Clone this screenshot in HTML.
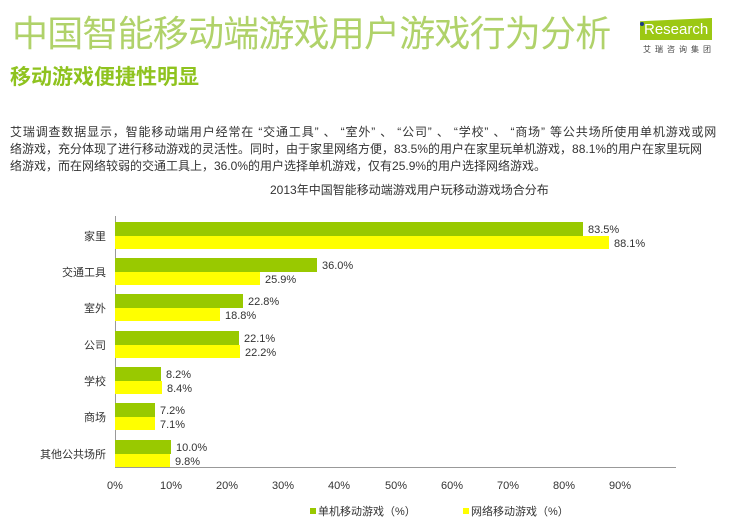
<!DOCTYPE html>
<html><head><meta charset="utf-8"><style>
body{margin:0;width:746px;height:528px;background:#fff;overflow:hidden;position:relative;font-family:"Liberation Sans","Noto Sans CJK SC",sans-serif}
.a{position:absolute;white-space:nowrap}
</style></head><body>
<div class="a" style="left:12px;top:12px;font-size:36px;color:#b0d26a;letter-spacing:-0.8px;line-height:44px">中国智能移动端游戏用户游戏行为分析</div>
<div class="a" style="left:10px;top:64px;font-size:21px;font-weight:bold;color:#8fc31f;line-height:28px">移动游戏便捷性明显</div>
<div class="a" style="left:640px;top:18px;width:72px;height:22px;background:#9cc813;clip-path:polygon(0 15%,100% 0,100% 100%,0 100%)"></div>
<div class="a" style="left:644px;top:20px;font-size:15px;color:#fff;line-height:20px">Research</div>
<div class="a" style="left:640px;top:22px;width:4px;height:4px;border-radius:2px;background:#1a3a8a"></div>
<div class="a" style="left:643px;top:44px;font-size:8px;color:#444;letter-spacing:4px">艾瑞咨询集团</div>
<div class="a" style="left:10px;top:124px;font-size:12px;color:#333;line-height:17px;letter-spacing:0.85px">艾瑞调查数据显示，智能移动端用户经常在 “交通工具” 、 “室外” 、 “公司” 、 “学校” 、 “商场” 等公共场所使用单机游戏或网</div>
<div class="a" style="left:10px;top:141px;font-size:12px;color:#333;line-height:17px">络游戏，充分体现了进行移动游戏的灵活性。同时，由于家里网络方便，83.5%的用户在家里玩单机游戏，88.1%的用户在家里玩网<br>络游戏，而在网络较弱的交通工具上，36.0%的用户选择单机游戏，仅有25.9%的用户选择网络游戏。</div>
<div class="a" style="left:270px;top:181px;font-size:12px;color:#333">2013年中国智能移动端游戏用户玩移动游戏场合分布</div>
<svg class="a" style="left:0;top:0" width="746" height="528" font-family="Liberation Sans,Noto Sans CJK SC,sans-serif" font-size="11" fill="#333">
<line x1="115.5" y1="216" x2="115.5" y2="468" stroke="#999"/>
<line x1="115" y1="467.5" x2="676" y2="467.5" stroke="#999"/>
<g font-size="11">
<rect x="115" y="222" width="468" height="14" fill="#99c900"/><rect x="115" y="236" width="494" height="13" fill="#ffff00"/>
<text x="588" y="233">83.5%</text><text x="614" y="247">88.1%</text><text x="106" y="240" text-anchor="end">家里</text>
<rect x="115" y="258" width="202" height="14" fill="#99c900"/><rect x="115" y="272" width="145" height="13" fill="#ffff00"/>
<text x="322" y="269">36.0%</text><text x="265" y="283">25.9%</text><text x="106" y="276" text-anchor="end">交通工具</text>
<rect x="115" y="294" width="128" height="14" fill="#99c900"/><rect x="115" y="308" width="105" height="13" fill="#ffff00"/>
<text x="248" y="305">22.8%</text><text x="225" y="319">18.8%</text><text x="106" y="312" text-anchor="end">室外</text>
<rect x="115" y="331" width="124" height="14" fill="#99c900"/><rect x="115" y="345" width="125" height="13" fill="#ffff00"/>
<text x="244" y="342">22.1%</text><text x="245" y="356">22.2%</text><text x="106" y="349" text-anchor="end">公司</text>
<rect x="115" y="367" width="46" height="14" fill="#99c900"/><rect x="115" y="381" width="47" height="13" fill="#ffff00"/>
<text x="166" y="378">8.2%</text><text x="167" y="392">8.4%</text><text x="106" y="385" text-anchor="end">学校</text>
<rect x="115" y="403" width="40" height="14" fill="#99c900"/><rect x="115" y="417" width="40" height="13" fill="#ffff00"/>
<text x="160" y="414">7.2%</text><text x="160" y="428">7.1%</text><text x="106" y="421" text-anchor="end">商场</text>
<rect x="115" y="440" width="56" height="14" fill="#99c900"/><rect x="115" y="454" width="55" height="13" fill="#ffff00"/>
<text x="176" y="451">10.0%</text><text x="175" y="465">9.8%</text><text x="106" y="458" text-anchor="end">其他公共场所</text>
</g>
<g text-anchor="middle" font-size="11">
<text x="115" y="489">0%</text><text x="171" y="489">10%</text><text x="227" y="489">20%</text><text x="283" y="489">30%</text><text x="339" y="489">40%</text><text x="396" y="489">50%</text><text x="452" y="489">60%</text><text x="508" y="489">70%</text><text x="564" y="489">80%</text><text x="620" y="489">90%</text>
</g>
<rect x="310" y="508" width="6" height="6" fill="#99c900"/><text x="318" y="515">单机移动游戏（%）</text>
<rect x="463" y="508" width="6" height="6" fill="#ffff00"/><text x="471" y="515">网络移动游戏（%）</text>
</svg>
</body></html>
